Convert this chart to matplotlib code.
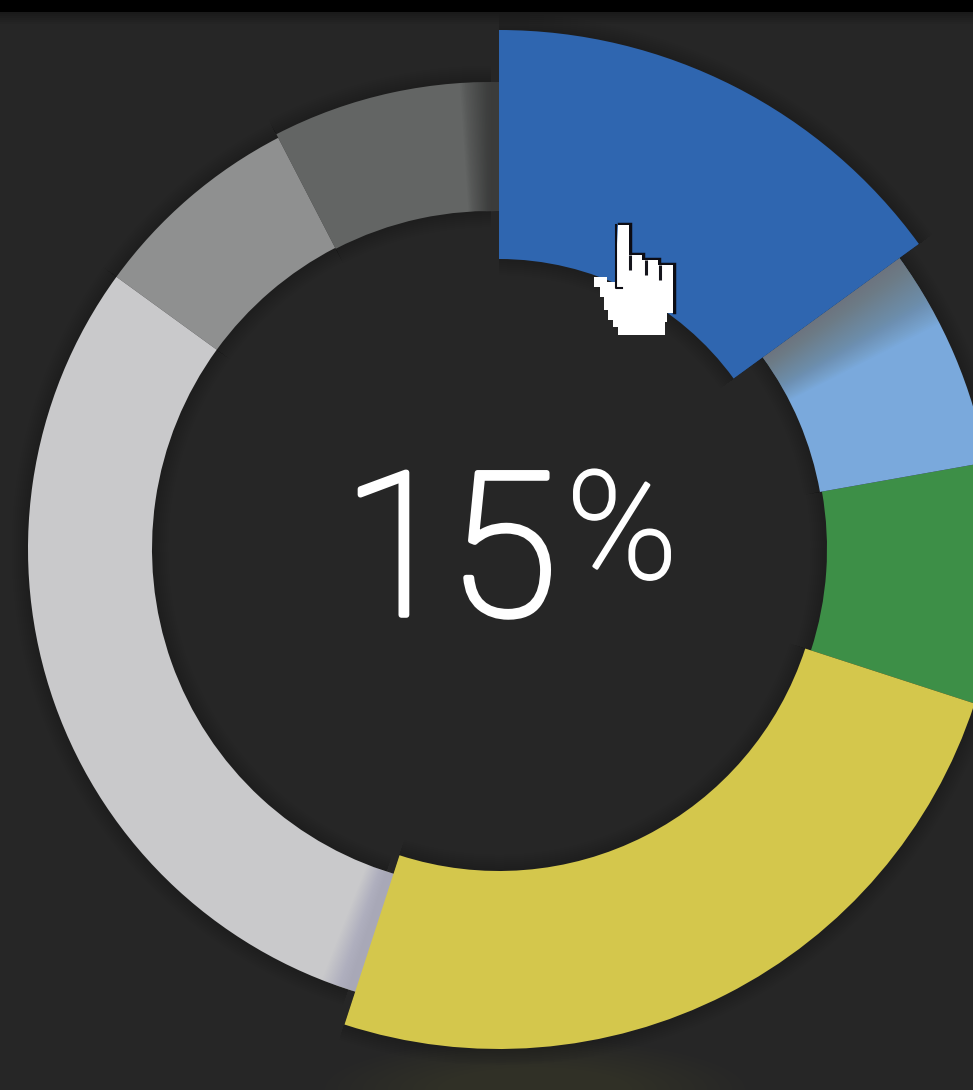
import matplotlib
matplotlib.use('Agg')
import matplotlib.pyplot as plt
import matplotlib.patheffects as pe
from matplotlib.patches import Wedge, Polygon, Rectangle, Ellipse

# share of each slice, clockwise from 12 o'clock
values = [15, 7.2, 7.8, 25, 30, 7.4, 7.6]
colors = ['#2f66b0', '#7aa9dc', '#3d8f47', '#d4c74c', '#c9c9cb', '#8f9090', '#636564']
inner = [290, 326, 328, 322, 339, 339, 338]
outer = [519, 495, 503, 500, 463, 463, 467]
center_x = [499, 499, 499, 499, 491, 491, 491]
# how far a flat slice runs on underneath its raised neighbour
tuck_start = [0, 0, 0, 0, 3, 0, 0]
tuck_end = [0, 0, 0, 0, 0, 0, 3]
center_label = '15'

W, H = 973, 1090
cy = H - 549
BG = '#262626'

fig = plt.figure(figsize=(W / 100, H / 100), dpi=100, facecolor=BG)
ax = fig.add_axes([0, 0, 1, 1])
ax.set_xlim(0, W)
ax.set_ylim(0, H)
ax.axis('off')


def wedge(cx, start, stop, r_in, r_out, color, z, alpha=1.0):
    # start/stop are degrees clockwise from north
    ax.add_patch(Wedge((cx, cy), r_out, 90 - stop, 90 - start, width=r_out - r_in,
                       facecolor=color, edgecolor='none', alpha=alpha, zorder=z, lw=0))


# glow under the yellow slice + black strip along the top
for i in range(10):
    ax.add_patch(Ellipse((535, 0), 420 - i * 25, 100 - i * 6, facecolor='#5a5038', alpha=0.035, lw=0, zorder=0))
ax.add_patch(Rectangle((0, H - 12), W, 12, facecolor='black', lw=0, zorder=6))
for i in range(6):
    ax.add_patch(Rectangle((0, H - 12 - (i + 1) * 2), W, (i + 1) * 2, facecolor='black',
                           alpha=0.05, lw=0, zorder=6))

angles = []
a = 0
for v in values:
    angles.append((a, a + v * 3.6))
    a += v * 3.6

# soft halo around everything
for i in range(8):
    for (s, e), r0, r1, cx in zip(angles, inner, outer, center_x):
        wedge(cx, s, e, r0 - 2 - i * 2, r1 + 2 + i * 2, 'black', 1, alpha=0.025)

# the flat ring first, raised slices afterwards
draw_order = [6, 5, 4, 2, 1, 3, 0]
for n in draw_order:
    s, e = angles[n]
    cx = center_x[n]
    s -= tuck_start[n]
    e += tuck_end[n]
    wedge(cx, s, e, inner[n], outer[n], colors[n], 2 + draw_order.index(n) * 0.1)
    # shadow cast by the raised neighbour
    if n == 1:
        for i in range(40):
            wedge(cx, s, s + 0.3 + i * 0.22, inner[n], outer[n], '#6c6c62', 2.45, alpha=0.026)
    if n == 4:
        for i in range(20):
            wedge(cx, s, s + 3 + i * 0.18, inner[n], outer[n], '#7c7ca0', 2.25, alpha=0.02)
    if n == 6:
        for i in range(20):
            wedge(cx, e - 3 - i * 0.2, e, inner[n], outer[n], '#262626', 2.05, alpha=0.04)

# centre label, "%" set smaller and raised
font = ['Roboto', 'DejaVu Sans']
thick = [pe.withStroke(linewidth=4, foreground='white')]
ax.text(397, H - 615, center_label[0], family=font, weight='light', fontsize=144, color='white',
        ha='center', va='baseline', zorder=8, path_effects=thick)
ax.text(503, H - 615, center_label[1], family=font, weight='light', fontsize=144, color='white',
        ha='center', va='baseline', zorder=8, path_effects=thick)
ax.text(622, H - 578, '%', family=font, weight='light', fontsize=108, color='white',
        ha='center', va='baseline', zorder=8, path_effects=[pe.withStroke(linewidth=2, foreground='white')])

# hand cursor, traced in picture pixels
hand_x = [618, 629, 629, 642, 642, 658, 658, 673, 673, 667, 667, 665, 665, 618, 618, 613, 613, 608, 608,
          604, 604, 600, 600, 594, 594, 607, 607, 615]
hand_y = [225, 225, 255, 255, 260, 260, 265, 265, 313, 313, 322, 322, 335, 335, 327, 327, 320, 320, 310,
          310, 297, 297, 287, 287, 277, 277, 282, 282]
ax.add_patch(Polygon([(x, H - y) for x, y in zip(hand_x, hand_y)], closed=True, facecolor='white',
                     edgecolor='none', zorder=9))
# black outline only on the top and right of the hand
ax.plot([x + 1 for x in hand_x[:9]], [H - y + 1 for y in hand_y[:9]], color='#0c0c14', lw=2.5, zorder=8.9,
        solid_joinstyle='miter')
ax.plot([616, 616, 622], [H - 225, H - 288, H - 288], color='#0c0c14', lw=1.5, zorder=10)
for x, y0, y1 in [(630, 255, 270), (646, 260, 275), (660, 265, 280)]:
    ax.plot([x, x], [H - y0, H - y1], color='#15151c', lw=2.2, zorder=10, solid_capstyle='butt')

fig.savefig('out.png', dpi=100, facecolor=BG)
